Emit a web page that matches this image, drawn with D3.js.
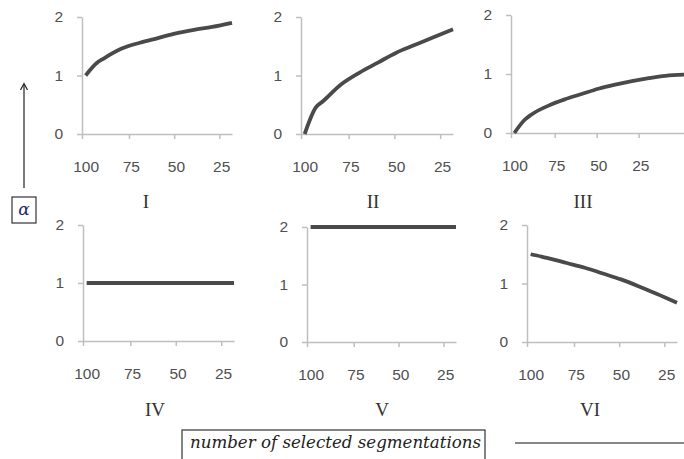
<!DOCTYPE html>
<html>
<head>
<meta charset="utf-8">
<script src="https://cdn.jsdelivr.net/npm/d3@7"></script>
<style>
  body { margin: 0; background: #fff; overflow: hidden; }
  svg { display: block; }
</style>
</head>
<body>
<svg width="684" height="459"></svg>
<script>
// alpha against the number of selected segmentations, six cases

var segments = [100, 94, 90, 80, 70, 60, 50, 40, 30, 19];
var segmentsIII = [100, 94, 90, 80, 70, 60, 50, 40, 30, 20, 10, -1];
var xTicks = [100, 75, 50, 25];
var yTicks = [0, 1, 2];
var titles = ["I", "II", "III", "IV", "V", "VI"];

var alphaI = [1.00, 1.21, 1.29, 1.46, 1.56, 1.64, 1.72, 1.78, 1.83, 1.90];
var alphaII = [0.00, 0.45, 0.56, 0.85, 1.05, 1.22, 1.39, 1.52, 1.65, 1.79];
var alphaIII = [0.00, 0.22, 0.31, 0.46, 0.57, 0.66, 0.75, 0.82, 0.88, 0.93, 0.97, 0.99];
var alphaIV = [1, 1, 1, 1, 1, 1, 1, 1, 1, 1];
var alphaV = [2, 2, 2, 2, 2, 2, 2, 2, 2, 2];
var alphaVI = [1.50, 1.46, 1.43, 1.35, 1.27, 1.17, 1.07, 0.95, 0.82, 0.67];

// layout of each small chart (pixel boxes), data joined below
var panels = [
  {left: 82,  right: 232, bottom: 134, top: 17,  xMin: 19, titleX: 146, titleY: 208, xs: segments,   ys: alphaI},
  {left: 301, right: 453, bottom: 134, top: 17,  xMin: 19, titleX: 373, titleY: 208, xs: segments,   ys: alphaII},
  {left: 511, right: 684, bottom: 133, top: 15,  xMin: -1, titleX: 583, titleY: 208, xs: segmentsIII, ys: alphaIII},
  {left: 83,  right: 234, bottom: 341, top: 225, xMin: 19, titleX: 155, titleY: 416, xs: segments,   ys: alphaIV},
  {left: 307, right: 456, bottom: 342, top: 227, xMin: 19, titleX: 382, titleY: 416, xs: segments,   ys: alphaV},
  {left: 527, right: 677, bottom: 342, top: 225, xMin: 19, titleX: 590, titleY: 416, xs: segments,   ys: alphaVI}
];

var svg = d3.select("svg");
var axisColor = "#bfbfbf";
var textColor = "#505050";

panels.forEach(function(p, i) {
  var x = d3.scaleLinear().domain([102, p.xMin]).range([p.left, p.right]);
  var y = d3.scaleLinear().domain([0, 2]).range([p.bottom, p.top]);
  var g = svg.append("g");

  // y axis
  g.append("g")
      .attr("transform", "translate(" + p.left + ",0)")
      .call(d3.axisLeft(y).tickValues(yTicks).tickSize(5).tickSizeOuter(0).tickPadding(14).tickFormat(d3.format("d")));

  // x axis labels
  g.append("g")
      .attr("transform", "translate(0," + p.bottom + ")")
      .call(d3.axisBottom(x).tickValues(xTicks).tickSize(0).tickSizeOuter(0).tickPadding(27).tickFormat(d3.format("d")));

  // x tick marks sit on the category boundaries
  var marks = [102].concat(xTicks.slice(1).map(function(v) { return v + 1; }));
  g.append("g")
      .attr("transform", "translate(0," + p.bottom + ")")
      .call(d3.axisBottom(x).tickValues(marks).tickSize(5).tickFormat(""))
      .select(".domain").remove();

  g.selectAll(".domain, .tick line")
      .attr("stroke", axisColor)
      .attr("stroke-width", 1.5);
  g.selectAll(".tick text")
      .attr("fill", textColor)
      .style("font-family", "'Liberation Sans', Arial, sans-serif")
      .style("font-size", "15.5px");

  var pts = p.xs.map(function(v, k) { return [v, p.ys[k]]; });
  g.append("path")
      .datum(pts)
      .attr("fill", "none")
      .attr("stroke", "#4a4a4a")
      .attr("stroke-width", 3.8)
      .attr("stroke-linejoin", "round")
      .attr("d", d3.line().x(function(d) { return x(d[0]); }).y(function(d) { return y(d[1]); }).curve(d3.curveMonotoneX));

  g.append("text")
      .attr("x", p.titleX)
      .attr("y", p.titleY)
      .attr("text-anchor", "middle")
      .attr("fill", "#333")
      .style("font-family", "'Liberation Serif', 'Times New Roman', serif")
      .style("font-size", "19px")
      .text(titles[i]);
});

// alpha label with arrow
svg.append("line")
    .attr("x1", 24).attr("x2", 24).attr("y1", 188).attr("y2", 84)
    .attr("stroke", "#222").attr("stroke-width", 1.2);
svg.append("path")
    .attr("d", "M20.5,90 L24,83.5 L27.5,90")
    .attr("fill", "none").attr("stroke", "#222").attr("stroke-width", 1.2);
svg.append("rect")
    .attr("x", 12).attr("y", 197).attr("width", 24).attr("height", 26)
    .attr("fill", "none").attr("stroke", "#333").attr("stroke-width", 1.2);
svg.append("text")
    .attr("x", 24).attr("y", 215)
    .attr("text-anchor", "middle")
    .attr("fill", "#1c2a6b")
    .style("font-family", "'DejaVu Serif', serif")
    .style("font-style", "italic")
    .style("font-size", "17px")
    .text("α");

// x axis caption
svg.append("rect")
    .attr("x", 182).attr("y", 430).attr("width", 303).attr("height", 40)
    .attr("fill", "none").attr("stroke", "#333").attr("stroke-width", 1.2);
svg.append("text")
    .attr("x", 190).attr("y", 448)
    .attr("textLength", 291)
    .attr("lengthAdjust", "spacingAndGlyphs")
    .attr("fill", "#222")
    .style("font-family", "'DejaVu Serif', serif")
    .style("font-style", "italic")
    .style("font-size", "16px")
    .text("number of selected segmentations");
svg.append("line")
    .attr("x1", 515).attr("x2", 684).attr("y1", 443).attr("y2", 443)
    .attr("stroke", "#111").attr("stroke-width", 1.2);
</script>
</body>
</html>
